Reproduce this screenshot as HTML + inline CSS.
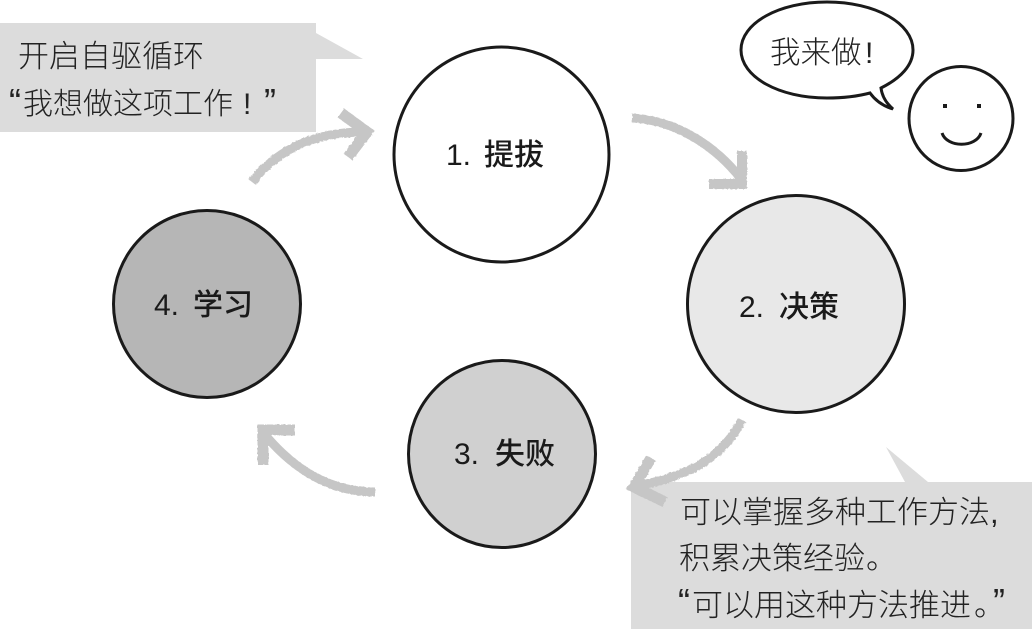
<!DOCTYPE html>
<html lang="zh">
<head>
<meta charset="utf-8">
<style>
html,body{margin:0;padding:0;background:#fff;}
svg{display:block;}
text{font-family:"Liberation Sans","Noto Sans CJK SC",sans-serif;fill:#222;}
.t{font-size:31px;font-weight:300;}
.q{font-size:36px;font-weight:400;}
.l{font-size:30px;font-weight:500;fill:#1a1a1a;}
.a{fill:none;stroke:#c6c6c6;stroke-linecap:butt;stroke-linejoin:miter;}
</style>
</head>
<body>
<svg width="1032" height="629" viewBox="0 0 1032 629" xmlns="http://www.w3.org/2000/svg">
<defs>
<filter id="r" x="-20%" y="-20%" width="140%" height="140%">
<feTurbulence type="fractalNoise" baseFrequency="0.35" numOctaves="2" seed="4"/>
<feDisplacementMap in="SourceGraphic" scale="2.5"/>
</filter>
</defs>

<!-- callout boxes -->
<path d="M0 23H316V33L363 59H316V132H0Z" fill="#dcdcdc"/>
<path d="M631 482H905L886 447L928 482H1032V629H631Z" fill="#dcdcdc"/>

<!-- arrows -->
<g filter="url(#r)">
<path class="a" stroke-width="9" d="M252 182C280 146 320 132 364 132"/>
<path class="a" stroke-width="11" d="M341 113L367 132L348 157"/>
<path class="a" stroke-width="9" d="M632 118C675 120 715 145 742 180"/>
<path class="a" stroke-width="10" d="M742 151V184H709"/>
<path class="a" stroke-width="9" d="M742 420C722 458 690 476 636 486"/>
<path class="a" stroke-width="11" d="M651 458L634 487L665 502"/>
<path class="a" stroke-width="9" d="M375 492C330 492 295 470 266 436"/>
<path class="a" stroke-width="11" d="M295 430H263V465"/>
</g>

<!-- main circles -->
<circle cx="501.500" cy="154.500" r="107.500" fill="#fff" stroke="#1a1a1a" stroke-width="3"/>
<circle cx="796" cy="304" r="108.500" fill="#e8e8e8" stroke="#1a1a1a" stroke-width="3"/>
<circle cx="502" cy="454" r="93.500" fill="#d0d0d0" stroke="#1a1a1a" stroke-width="3"/>
<circle cx="207" cy="304" r="93.500" fill="#b6b6b6" stroke="#1a1a1a" stroke-width="3"/>

<!-- circle labels -->
<text class="l" x="446" y="165">1.</text><text class="l" x="484" y="165">提拔</text>
<text class="l" x="739" y="317">2.</text><text class="l" x="779" y="317">决策</text>
<text class="l" x="454" y="464">3.</text><text class="l" x="495" y="464">失败</text>
<text class="l" x="154" y="315">4.</text><text class="l" x="193" y="315">学习</text>

<!-- speech bubble and smiley -->
<path d="M870 93C855 97 842 98 827 98C779 98 741 77 741 50C741 23 779 2 827 2C875 2 913 23 913 50C913 65 901 78 881 88C882 96 886 103 893 109C883 106 875 100 870 93Z" fill="#fff" stroke="#1a1a1a" stroke-width="3"/>
<text class="t" x="770" y="63" style="font-size:30.500px">我来做</text>
<text class="t" x="865" y="63" style="font-size:30px">!</text>
<circle cx="961" cy="118.500" r="52" fill="#fff" stroke="#1a1a1a" stroke-width="3"/>
<rect x="943" y="104" width="4" height="4" fill="#1a1a1a"/>
<rect x="977" y="104" width="4" height="4" fill="#1a1a1a"/>
<path d="M942 133C947 148 976 148 981 133" fill="none" stroke="#1a1a1a" stroke-width="3"/>

<!-- top-left callout text -->
<text class="t" x="18" y="67">开启自驱循环</text>
<text class="q" x="9" y="114">“</text>
<text class="t" x="23" y="114" style="font-size:30px">我想做这项工作</text>
<text class="t" x="243" y="114" style="font-size:30px">!</text>
<text class="q" x="264" y="114">”</text>

<!-- bottom-right callout text -->
<text class="t" x="680" y="523">可以掌握多种工作方法</text>
<text class="t" x="990" y="523">,</text>
<text class="t" x="679" y="569">积累决策经验</text>
<text class="t" x="866" y="569">。</text>
<text class="q" x="678" y="614">“</text>
<text class="t" x="692" y="616">可以用这种方法推进</text>
<text class="t" x="974" y="616">。</text>
<text class="q" x="993" y="614">”</text>
</svg>
</body>
</html>
